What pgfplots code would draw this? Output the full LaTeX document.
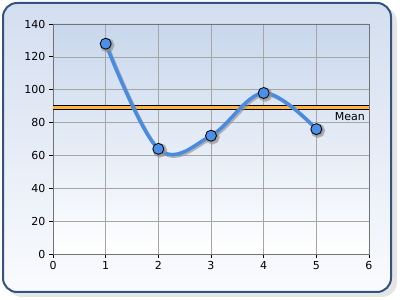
\documentclass[border=0pt]{standalone}
\usepackage{pgfplots}
\pgfplotsset{compat=1.18}
\usepackage{fontspec}
\setmainfont{DejaVu Sans}
\definecolor{frametop}{HTML}{D3DEEF}
\definecolor{framebot}{HTML}{FAFBFE}
\definecolor{frameline}{HTML}{34537D}
\definecolor{plottop}{HTML}{C8D7EC}
\definecolor{linecol}{HTML}{4A8AE0}
\definecolor{markcol}{HTML}{4A90EA}
\definecolor{meancol}{HTML}{FFB347}
\begin{document}
\begin{tikzpicture}[x=1pt,y=1pt]
\useasboundingbox (0,0) rectangle (400,300);
\fill[black!18, rounded corners=15] (6,4) rectangle (395,294);
\fill[black!10, rounded corners=15] (7,3) rectangle (397,293);
\draw[rounded corners=14, line width=2pt, draw=frameline, top color=frametop, bottom color=framebot] (3,8) rectangle (391,297);
\begin{axis}[
  scale only axis, width=316pt, height=230pt,
  at={(53pt,46pt)}, anchor=south west,
  xmin=0, xmax=6, ymin=0, ymax=140,
  xtick={0,1,...,6}, ytick={0,20,...,140},
  xtick pos=bottom, ytick pos=left,
  tick align=outside, major tick length=4pt,
  tick style={black, line width=0.8pt},
  grid=major, grid style={black!35, line width=0.6pt},
  axis line style={black!55, line width=0.8pt},
  ticklabel style={font=\fontsize{11}{13}\selectfont},
  /pgf/number format/assume math mode=true,
  axis background/.style={top color=plottop, bottom color=white},
  clip=false,
]
\addplot[black, line width=5pt, forget plot] coordinates {(0,89) (6,89)};
\addplot[meancol, line width=3pt, forget plot] coordinates {(0,89) (6,89)};
\addplot[black!45, opacity=0.6, smooth, tension=0.6, line width=3.5pt, xshift=1.5pt, yshift=-1.5pt,
  mark=*, mark size=5.5pt, mark options={fill=black!45, draw=none}] coordinates {(1,128) (2,64) (3,72) (4,98) (5,76)};
\addplot[linecol, smooth, tension=0.6, line width=3.5pt,
  mark=*, mark size=5.5pt, mark options={fill=markcol, draw=black, line width=0.8pt}] coordinates {(1,128) (2,64) (3,72) (4,98) (5,76)};
\node[anchor=north east, font=\fontsize{11}{13}\selectfont, inner sep=1pt] at (axis cs:6,89) [xshift=-3pt, yshift=-3pt] {Mean};
\end{axis}
\end{tikzpicture}
\end{document}
